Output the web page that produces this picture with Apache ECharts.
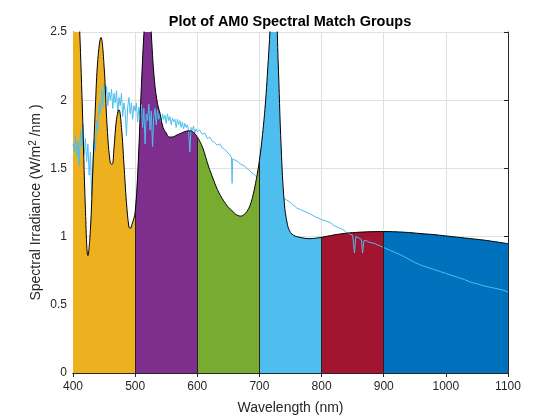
<!DOCTYPE html>
<html>
<head>
<meta charset="utf-8">
<script src="https://cdn.jsdelivr.net/npm/echarts@6/dist/echarts.min.js"></script>
<style>
  html, body { margin: 0; padding: 0; background: #fff; }
  #chart { width: 560px; height: 420px; }
</style>
</head>
<body>
<div id="chart"></div>
<script>
// simulator spectrum (black outline), wavelength nm / irradiance W/m2/nm
var simWl = [400,405,410,415,420,424,428,432,436,440,445,450,455,460,463,466,470,474,478,482,486,490,492,495,
  500,505,510,515,520,525,530,535,540,545,550,555,560,565,570,575,580,585,590,595,
  600,605,610,615,620,625,630,635,640,645,650,655,660,665,670,675,680,685,690,695,
  700,705,710,715,720,725,730,735,740,745,750,755,760,770,780,790,
  800,820,840,860,880,900,920,940,960,980,1000,1020,1040,1060,1080,1100];
var simVal = [3.6,3.1,2.6,1.95,1.2,0.86,1.05,1.5,1.95,2.3,2.46,2.25,1.8,1.54,1.53,1.65,1.86,1.93,1.8,1.53,1.25,1.07,1.06,1.09,
  1.18,1.55,2.1,2.55,2.8,2.55,2.2,2.0,1.9,1.8,1.76,1.73,1.73,1.74,1.75,1.76,1.77,1.775,1.775,1.76,
  1.73,1.69,1.635,1.56,1.49,1.43,1.37,1.32,1.28,1.245,1.215,1.195,1.17,1.155,1.15,1.16,1.185,1.23,1.31,1.42,
  1.56,1.75,2.0,2.35,2.7,2.85,2.3,1.65,1.25,1.09,1.03,1.01,1.0,0.99,0.985,0.988,
  0.995,1.012,1.025,1.032,1.036,1.037,1.035,1.03,1.022,1.015,1.005,0.995,0.985,0.975,0.962,0.948];

// AM0 reference spectrum
var am0Wl = [400,402,404,406,408,410,412,414,416,418,420,422,424,426,428,430,432,434,436,438,440,442,444,446,448,
  450,452,454,456,458,460,462,464,466,468,470,472,474,476,478,480,482,484,486,488,490,492,494,496,498,
  500,502,504,506,508,510,512,514,516,518,520,522,524,526,528,530,532,534,536,538,540,542,544,546,548,
  550,552,554,556,558,560,562,564,566,568,570,572,574,576,578,580,582,584,586,588,590,592,594,596,598,
  600,604,608,612,616,620,624,628,632,636,640,644,648,652,655,656,657,660,665,670,675,680,685,690,695,
  700,710,720,730,740,750,760,765,770,780,790,800,810,815,820,825,830,835,840,845,850,853,855,860,864,866,868,872,876,880,885,890,895,
  900,910,920,930,940,950,960,970,980,990,1000,1010,1020,1030,1040,1050,1060,1070,1080,1090,1100];
var am0Val = [1.68,1.62,1.74,1.58,1.70,1.52,1.78,1.66,1.82,1.60,1.72,1.55,1.68,1.45,1.62,1.30,1.55,1.70,1.62,1.85,1.78,1.98,1.90,2.08,1.95,
  2.12,2.02,2.10,1.96,2.06,2.00,2.08,1.94,2.05,1.98,2.07,1.90,2.02,1.96,2.05,1.88,1.98,1.92,1.74,1.95,2.02,1.90,1.98,1.86,1.96,
  1.92,1.98,1.84,1.95,1.88,1.97,1.80,1.94,1.68,1.90,1.85,1.97,1.78,1.92,1.66,1.88,1.94,1.82,1.93,1.86,1.91,1.84,1.90,1.86,1.89,
  1.83,1.90,1.85,1.88,1.82,1.87,1.84,1.86,1.80,1.86,1.82,1.85,1.80,1.84,1.79,1.83,1.80,1.82,1.78,1.62,1.80,1.78,1.81,1.76,1.79,
  1.77,1.78,1.75,1.76,1.72,1.73,1.70,1.69,1.67,1.68,1.65,1.64,1.62,1.60,1.58,1.39,1.57,1.56,1.55,1.53,1.52,1.50,1.48,1.46,1.44,
  1.42,1.38,1.34,1.31,1.28,1.25,1.21,1.20,1.19,1.17,1.145,1.125,1.11,1.10,1.08,1.07,1.06,1.05,1.03,1.02,1.01,0.88,1.00,0.99,0.98,0.88,0.97,0.97,0.96,0.955,0.95,0.94,0.93,
  0.92,0.90,0.88,0.86,0.835,0.81,0.79,0.775,0.76,0.745,0.73,0.715,0.70,0.685,0.665,0.655,0.64,0.63,0.62,0.61,0.595];

// spectral match groups
var groupStart = [400, 500, 600, 700, 800, 900];
var groupEnd = [500, 600, 700, 800, 900, 1100];
var groupColor = ['#EDB120', '#7E2F8E', '#77AC30', '#4DBEEE', '#A2142F', '#0072BD'];

var xTicks = [400, 500, 600, 700, 800, 900, 1000, 1100];
var yTicks = [0, 0.5, 1, 1.5, 2, 2.5];

var chart = echarts.init(document.getElementById('chart'));

function pairs(xs, ys) {
  return xs.map(function (x, i) { return [x, ys[i]]; });
}
var simData = pairs(simWl, simVal);
var am0Data = pairs(am0Wl, am0Val);

var series = [];
groupStart.forEach(function (s, g) {
  var e = groupEnd[g];
  series.push({
    type: 'line',
    data: simData.filter(function (p) { return p[0] >= s && p[0] <= e; }),
    smooth: 0.4,
    symbol: 'none',
    lineStyle: { width: 0 },
    areaStyle: { color: groupColor[g], opacity: 1 },
    z: 2,
    silent: true
  });
});

// dark edges between groups
var edges = groupStart.slice(1).map(function (x) {
  return [{ coord: [x, 0] }, { coord: [x, simVal[simWl.indexOf(x)]] }];
});

series.push({
  type: 'line',
  data: am0Data,
  symbol: 'none',
  lineStyle: { color: '#4DBEEE', width: 1 },
  z: 3,
  silent: true
});
series.push({
  type: 'line',
  data: simData,
  smooth: 0.4,
  symbol: 'none',
  lineStyle: { color: '#000', width: 1 },
  z: 4,
  silent: true,
  markLine: {
    symbol: 'none',
    silent: true,
    label: { show: false },
    lineStyle: { color: '#222', width: 1, type: 'solid' },
    data: edges
  }
});

var axisCol = '#262626';
var font = 'Liberation Sans';
var option = {
  animation: false,
  title: {
    text: 'Plot of AM0 Spectral Match Groups',
    left: 285, top: 9, textAlign: 'center',
    textStyle: { fontFamily: font, fontSize: 14.5, fontWeight: 'bold', color: '#000' }
  },
  grid: { left: 73, top: 32, width: 435, height: 341 },
  xAxis: [{
    type: 'value', min: 400, max: 1100, interval: 100,
    name: 'Wavelength (nm)', nameLocation: 'middle', nameGap: 28, nameMoveOverlap: false,
    nameTextStyle: { fontFamily: font, fontSize: 14, color: axisCol },
    axisLine: { show: true, lineStyle: { color: axisCol } },
    axisTick: { inside: true, length: 4, lineStyle: { color: axisCol } },
    axisLabel: { fontFamily: font, fontSize: 12, color: axisCol, margin: 8,
      formatter: function (v) { return xTicks.indexOf(v) >= 0 ? v : ''; } },
    splitLine: { show: true, lineStyle: { color: '#dfdfdf' } }
  }, {
    type: 'value', position: 'top', min: 400, max: 1100, interval: 100,
    axisLine: { show: true, lineStyle: { color: axisCol } },
    axisTick: { inside: true, length: 4, lineStyle: { color: axisCol } },
    axisLabel: { show: false }, splitLine: { show: false }
  }],
  yAxis: [{
    type: 'value', min: 0, max: 2.5, interval: 0.5,
    name: '{a|Spectral Irradiance (W/m}{s|2}{a| /nm )}', nameLocation: 'middle', nameGap: 28, nameMoveOverlap: false,
    nameTextStyle: {
      rich: {
        a: { fontFamily: font, fontSize: 14, color: axisCol },
        s: { fontFamily: font, fontSize: 10, color: axisCol, verticalAlign: 'top', padding: [0, 0, 7, 0] }
      }
    },
    axisLine: { show: true, lineStyle: { color: axisCol } },
    axisTick: { inside: true, length: 4, lineStyle: { color: axisCol } },
    axisLabel: { fontFamily: font, fontSize: 12, color: axisCol, margin: 6,
      formatter: function (v) { return yTicks.indexOf(v) >= 0 ? String(v) : ''; } },
    splitLine: { show: true, lineStyle: { color: '#dfdfdf' } }
  }, {
    type: 'value', position: 'right', min: 0, max: 2.5, interval: 0.5,
    axisLine: { show: true, lineStyle: { color: axisCol } },
    axisTick: { inside: true, length: 4, lineStyle: { color: axisCol } },
    axisLabel: { show: false }, splitLine: { show: false }
  }],
  series: series
};
chart.setOption(option);
</script>
</body>
</html>
